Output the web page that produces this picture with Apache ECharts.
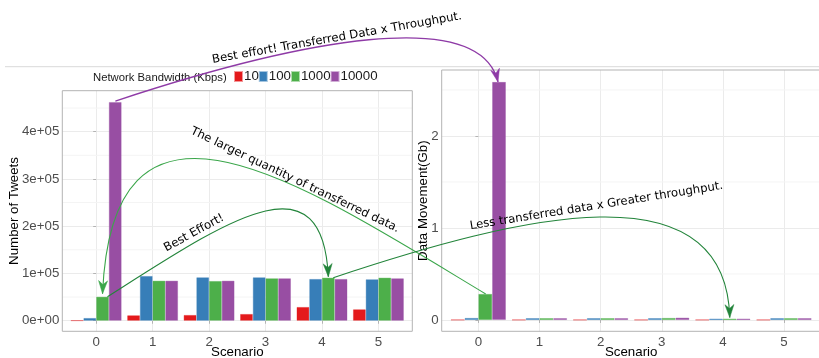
<!DOCTYPE html>
<html><head><meta charset="utf-8">
<script src="https://cdn.jsdelivr.net/npm/echarts@6/dist/echarts.min.js"></script>
<style>html,body{margin:0;padding:0;background:#fff}#c{width:819px;height:358px}</style>
</head><body><div id="c"></div>
<script>
const scenarios = [0, 1, 2, 3, 4, 5];
const bandwidths = ['10', '100', '1000', '10000'];
const legendTitle = 'Network Bandwidth (Kbps)';
// Number of Tweets per bandwidth
const tweets10 = [500, 11400, 12100, 14200, 29000, 24100];
const tweets100 = [5700, 94600, 91800, 91800, 88300, 87600];
const tweets1000 = [50800, 84700, 84000, 89700, 91100, 91100];
const tweets10000 = [462800, 84700, 84700, 89700, 88300, 89700];
// Data Movement (Gb) per bandwidth
const gb10 = [0.002, 0.002, 0.002, 0.002, 0.002, 0.002];
const gb100 = [0.022, 0.02, 0.02, 0.02, 0.015, 0.02];
const gb1000 = [0.283, 0.02, 0.02, 0.022, 0.015, 0.02];
const gb10000 = [2.587, 0.02, 0.02, 0.025, 0.015, 0.02];
// tick labels
const scenarioLabels = ['0', '1', '2', '3', '4', '5'];
const tweetTicks = [0, 100000, 200000, 300000, 400000];
const tweetTickLabels = ['0e+00', '1e+05', '2e+05', '3e+05', '4e+05'];
const tweetMinor = [50000, 150000, 250000, 350000, 450000];
const gbTicks = [0, 1, 2];
const gbTickLabels = ['0', '1', '2'];
const gbMinor = [0.5, 1.5, 2.5];
// annotation texts
const note1 = 'Best effort! Transferred Data x Throughput.';
const note2 = 'The larger quantity of transferred data.';
const note3 = 'Best Effort!';
const note4 = 'Less transferred data x Greater throughput.';

const colors = ['#E41A1C', '#377EB8', '#4DAF4A', '#984EA3'];
const borders = ['rgba(228,26,28,0.45)', 'rgba(55,126,184,0.45)', 'rgba(77,175,74,0.45)', 'rgba(152,78,163,0.45)'];
const FONT = "'Liberation Sans', Arial, Helvetica, sans-serif";
const AFONT = "'DejaVu Sans', sans-serif";

const chart = echarts.init(document.getElementById('c'), null, {renderer: 'canvas'});

function bars(values, gi, k) {
  return {
    type: 'bar', name: bandwidths[k], xAxisIndex: gi, yAxisIndex: gi,
    data: scenarios.map((s, i) => [s, values[i]]),
    barWidth: '22.5%', barGap: '0%', silent: true, z: 2,
    itemStyle: {color: colors[k], borderColor: borders[k], borderWidth: 0.8}
  };
}
function xAxisCfg(gi) {
  return {
    type: 'value', gridIndex: gi, min: -0.6, max: 5.6, splitNumber: 6,
    axisLine: {show: false},
    axisTick: {show: true, length: 3, customValues: scenarios, lineStyle: {color: '#b3b3b3'}},
    axisLabel: {customValues: scenarios, margin: 4.5, color: '#4d4d4d', fontSize: 13.3, fontFamily: FONT,
      formatter: v => { const i = scenarios.indexOf(v); return i >= 0 ? scenarioLabels[i] : ''; }},
    splitLine: {show: true, lineStyle: {color: '#ebebeb', width: 1}},
    name: 'Scenario', nameLocation: 'middle', nameGap: 15, nameMoveOverlap: false,
    nameTextStyle: {color: '#000', fontSize: 13.3, fontFamily: FONT}
  };
}
function yAxisCfg(gi, min, max, split, ticks, labels, name, gap) {
  return {
    type: 'value', gridIndex: gi, min: min, max: max, splitNumber: split,
    axisLine: {show: false},
    axisTick: {show: true, length: 3, customValues: ticks, lineStyle: {color: '#b3b3b3'}},
    axisLabel: {customValues: ticks, margin: 3, color: '#4d4d4d', fontSize: 13.3, fontFamily: FONT,
      formatter: v => { const i = ticks.indexOf(v); return i >= 0 ? labels[i] : ''; }},
    splitLine: {show: true, lineStyle: {color: '#ebebeb', width: 1}},
    name: name, nameLocation: 'middle', nameGap: gap, nameMoveOverlap: false,
    nameTextStyle: {color: '#000', fontSize: 13.3, fontFamily: FONT}
  };
}

const option = {
  animation: false,
  backgroundColor: '#fff',
  legend: {
    data: bandwidths, left: 234, top: 70, padding: 0, itemGap: 0,
    itemWidth: 7, itemHeight: 9, icon: 'rect', selectedMode: false,
    textStyle: {color: '#1a1a1a', fontSize: 13.3, fontFamily: FONT, padding: [0, 0, 0, -3]}
  },
  grid: [
    {left: 62.3, top: 90.7, width: 350, height: 240.6, show: false, containLabel: false, outerBoundsMode: 'none'},
    {left: 441.7, top: 70, width: 379, height: 261.3, show: false, containLabel: false, outerBoundsMode: 'none'}
  ],
  xAxis: [xAxisCfg(0), xAxisCfg(1)],
  yAxis: [
    yAxisCfg(0, -22400, 486800, 5, tweetTicks, tweetTickLabels, 'Number of Tweets', 41),
    yAxisCfg(1, -0.123, 2.717, 3, gbTicks, gbTickLabels, 'Data Movement(Gb)', 12)
  ],
  series: [
    bars(tweets10, 0, 0), bars(tweets100, 0, 1), bars(tweets1000, 0, 2), bars(tweets10000, 0, 3),
    bars(gb10, 1, 0), bars(gb100, 1, 1), bars(gb1000, 1, 2), bars(gb10000, 1, 3)
  ]
};
chart.setOption(option);

const P = (g, x, y) => chart.convertToPixel({xAxisIndex: g, yAxisIndex: g}, [x, y]);
const gfx = [];
// top rule
gfx.push({type: 'line', z: 1, shape: {x1: 5, y1: 66.7, x2: 819, y2: 66.7}, style: {stroke: '#d9d9d9', lineWidth: 1}});
// minor grid lines
function minor(g, vals) {
  vals.forEach(v => {
    const a = P(g, -0.6, v), b = P(g, 5.6, v);
    gfx.push({type: 'line', z: 1, silent: true, shape: {x1: a[0], y1: a[1], x2: b[0], y2: b[1]}, style: {stroke: '#f4f4f4', lineWidth: 1}});
  });
}
minor(0, tweetMinor); minor(1, gbMinor);
// panel borders
function border(g, ymin, ymax) {
  const a = P(g, -0.6, ymax), b = P(g, 5.6, ymin);
  gfx.push({type: 'rect', z: 50, silent: true, shape: {x: a[0], y: a[1], width: b[0] - a[0], height: b[1] - a[1]},
    style: {fill: 'none', stroke: '#b3b3b3', lineWidth: 1}});
}
border(0, -22400, 486800); border(1, -0.123, 2.717);
// legend title
gfx.push({type: 'text', z: 60, x: 93, y: 77.7, style: {text: legendTitle, fill: '#1a1a1a', font: '11.3px ' + FONT, textVerticalAlign: 'middle', textAlign: 'left'}});

function curve(s, c1, c2, e, color, w) {
  gfx.push({type: 'bezierCurve', z: 70, silent: true,
    shape: {x1: s[0], y1: s[1], cpx1: c1[0], cpy1: c1[1], cpx2: c2[0], cpy2: c2[1], x2: e[0], y2: e[1]},
    style: {stroke: color, lineWidth: w, fill: null}});
  const dx = e[0] - c2[0], dy = e[1] - c2[1], L = Math.hypot(dx, dy);
  const ux = dx / L, uy = dy / L, len = 13, hw = 4.5;
  const bx = e[0] - ux * len, by = e[1] - uy * len;
  const nx = e[0] - ux * len * 0.7, ny = e[1] - uy * len * 0.7;
  gfx.push({type: 'polygon', z: 71, silent: true,
    shape: {points: [[e[0], e[1]], [bx - uy * hw, by + ux * hw], [nx, ny], [bx + uy * hw, by - ux * hw]]},
    style: {fill: color, stroke: color, lineWidth: 0.5}});
}
const add = (p, d) => [p[0] + d[0], p[1] + d[1]];
// A: purple
{
  const s = add(P(0, 0.34, tweets10000[0]), [0, -1]);
  const e = add(P(1, 0.3375, gb10000[0]), [-1, 0]);
  curve(s, add(s, [184, -61]), add(e, [-18, -77]), e, '#8e3aa6', 1.3);
}
// B: large green
{
  const s = P(1, 0.12, gb1000[0]);
  const e = add(P(0, 0.1125, tweets1000[0]), [0, -3]);
  curve(s, add(s, [-186, -112]), add(e, [10, -238]), e, '#3aa64a', 1.1);
}
// C: Best Effort
{
  const s = add(P(0, 0.2, tweets1000[0]), [0, 0]);
  const e = add(P(0, 4.1125, tweets1000[4]), [0, -1]);
  curve(s, add(s, [121, -77]), add(e, [-6, -122]), e, '#22843a', 1.1);
}
// D: Less transferred
{
  const s = add(P(0, 4.2, tweets1000[4]), [0, 0]);
  const e = add(P(1, 4.1125, gb1000[4]), [0, -1]);
  curve(s, add(s, [186, -62]), add(e, [-4, -153]), e, '#22843a', 1.1);
}
function note(text, x, y, deg) {
  gfx.push({type: 'text', z: 80, silent: true, x: x, y: y, rotation: deg * Math.PI / 180,
    style: {text: text, fill: '#000', font: '11.7px ' + AFONT, textAlign: 'center', textVerticalAlign: 'middle'}});
}
note(note1, 337, 38, 10);
note(note2, 295, 180, -25.5);
note(note3, 194, 233, 28.5);
note(note4, 596.5, 206, 9.1);

chart.setOption({graphic: gfx});
</script>
</body></html>
